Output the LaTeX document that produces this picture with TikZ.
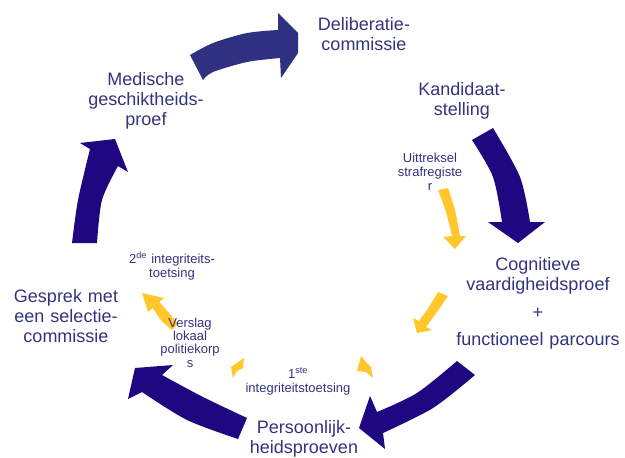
\documentclass[tikz,border=0pt]{standalone}
\usepackage{fontspec}
\setmainfont{Liberation Sans}
\definecolor{txt}{HTML}{333380}
\definecolor{navy}{HTML}{1F0781}
\definecolor{slate}{HTML}{2E3181}
\definecolor{gold}{HTML}{FFC72C}
\begin{document}
\begin{tikzpicture}[x=1pt,y=-1pt,
  big/.style={text=txt, font=\fontsize{18}{20}\selectfont, align=center, text width=200pt, anchor=base, inner sep=0pt},
  small/.style={text=txt, font=\fontsize{13}{14}\selectfont, align=center, text width=120pt, anchor=base, inner sep=0pt},
  bigarrow/.style={fill=navy},
  toparrow/.style={fill=slate},
  goldarrow/.style={fill=gold}]
\useasboundingbox (0,0) rectangle (625,458);

% big arrows
\fill[toparrow] (203,80) -- (190,55) -- plot[smooth] coordinates {(190,55) (213,43) (247,33) (278,30)}
  -- (278,13) -- (298,33) -- (298,53) -- (281,78) -- (280,58)
  -- plot[smooth] coordinates {(280,58) (247,62) (213,72) (203,80)} -- cycle;
\fill[bigarrow] (472,140) -- (493,128) -- plot[smooth] coordinates {(493,128) (520,177) (530,222)}
  -- (545,222) -- (518,243) -- (488,222) -- (502,222)
  -- plot[smooth] coordinates {(502,222) (493,177) (472,140)} -- cycle;
\fill[bigarrow] (457,361) -- (475,375) -- plot[smooth] coordinates {(475,375) (433,408) (383,433)}
  -- (385,449) -- (359,428) -- (370,396) -- (377,412)
  -- plot[smooth] coordinates {(377,412) (417,393) (457,361)} -- cycle;
\fill[bigarrow] (238,439) -- (247,418) -- plot[smooth] coordinates {(247,418) (203,397) (162,375)}
  -- (173,365) -- (135,368) -- (128,399) -- (142,392)
  -- plot[smooth] coordinates {(142,392) (187,420) (238,439)} -- cycle;
\fill[bigarrow] (97,243) -- (72,243) -- plot[smooth] coordinates {(72,243) (78,200) (90,149)}
  -- (80,143) -- (115,139) -- (128,172) -- (118,166)
  -- plot[smooth] coordinates {(118,166) (102,200) (97,243)} -- cycle;

% gold arrows
\fill[goldarrow] (438,190) -- plot[smooth] coordinates {(438,190) (446,212) (452,236)}
  -- (443,237) -- (455,249) -- (466,236) -- (460,236)
  -- plot[smooth] coordinates {(460,236) (455,210) (448,188)} -- cycle;
\fill[goldarrow] (448,296) -- (438,292) -- plot[smooth] coordinates {(438,292) (429,307) (419,321)}
  -- (413,318) -- (417,333) -- (432,330) -- (426,327)
  -- plot[smooth] coordinates {(426,327) (437,312) (448,296)} -- cycle;
\fill[goldarrow] (361,356) -- (357,371) -- (366,372) -- (373,378) -- (371,367) -- (366,362) -- cycle;
\fill[goldarrow] (244,358) -- (231,367) -- (233,378) -- (237,371) -- (243,368) -- cycle;
\fill[goldarrow] (178,324) -- (171.7,330) -- plot[smooth] coordinates {(171.7,330) (161,320) (152.7,308)}
  -- (148,312) -- (142,293) -- (164,298) -- (159.3,302)
  -- plot[smooth] coordinates {(159.3,302) (169,313) (178,324)} -- cycle;

% labels
\node[big] (delib) at (364,30) {Deliberatie-\\commissie};
\node[big] (kand) at (462,95) {Kandidaat-\\stelling};
\node[big] (med) at (146,85) {Medische\\geschiktheids-\\proef};
\node[big] (cog) at (538,270) {Cognitieve\\vaardigheidsproef\\[8pt]+\\[7pt]functioneel parcours};
\node[big] (gesprek) at (66,302) {Gesprek met\\een selectie-\\commissie};
\node[big] (pers) at (304,433) {Persoonlijk-\\heidsproeven};
\node[small] (uittr) at (430,162) {Uittreksel\\strafregiste\\r};
\node[small] (tweede) at (172,263) {2\textsuperscript{de} integriteits-\\toetsing};
\node[small, font=\fontsize{13}{13.4}\selectfont] (verslag) at (190,327) {Verslag\\lokaal\\politiekorp\\s};
\node[small] (eerste) at (298,378) {1\textsuperscript{ste}\\integriteitstoetsing};
\end{tikzpicture}
\end{document}
